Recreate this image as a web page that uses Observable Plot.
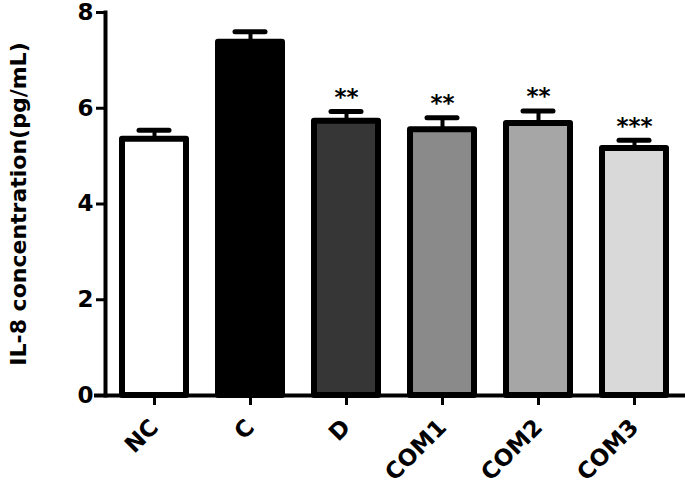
<!DOCTYPE html>
<html>
<head>
<meta charset="utf-8">
<script src="https://cdn.jsdelivr.net/npm/d3@7"></script>
<script src="https://cdn.jsdelivr.net/npm/@observablehq/plot@0.6"></script>
<style>
  html, body { margin: 0; padding: 0; background: #fff; }
  #chart svg { display: block; }
</style>
</head>
<body>
<div id="chart"></div>
<script>
const groups = ["NC", "C", "D", "COM1", "COM2", "COM3"];
const means = [5.35, 7.38, 5.73, 5.55, 5.68, 5.16];
const errors = [0.19, 0.22, 0.20, 0.25, 0.26, 0.17];
const stars = ["", "", "**", "**", "**", "***"];
const fills = ["#ffffff", "#000000", "#363636", "#8a8a8a", "#a6a6a6", "#d9d9d9"];
const yTicks = [0, 2, 4, 6, 8];
const yLabel = "IL-8 concentration(pg/mL)";

const data = groups.map((g, i) => ({
  group: g, mean: means[i], top: means[i] + errors[i], star: stars[i], fill: fills[i]
}));

const font = "'DejaVu Sans', Verdana, sans-serif";

const chart = Plot.plot({
  width: 685,
  height: 492,
  marginLeft: 105,
  marginRight: 1,
  marginTop: 12,
  marginBottom: 97,
  style: { fontFamily: font, fontWeight: "bold", color: "#000", background: "#fff", overflow: "visible" },
  x: { domain: groups, paddingInner: 0.33, paddingOuter: 0.157, align: 0.5 },
  y: { domain: [0, 8] },
  marks: [
    Plot.barY(data, { x: "group", y: "mean", fill: "fill", stroke: "#000", strokeWidth: 6, strokeLinejoin: "round" }),
    Plot.ruleX(data, { x: "group", y1: "mean", y2: "top", stroke: "#000", strokeWidth: 4 }),
    Plot.tickY(data, { x: "group", y: "top", stroke: "#000", strokeWidth: 5, strokeLinecap: "round", insetLeft: 17, insetRight: 17 }),
    Plot.text(data, { x: "group", y: "top", text: "star", dy: -14, fontSize: 23, fontWeight: "bold", fill: "#000", lineAnchor: "middle" }),
    Plot.frame({ anchor: "left", stroke: "#000", strokeWidth: 4 }),
    Plot.ruleY([0], { stroke: "#000", strokeWidth: 4, insetLeft: -11, insetRight: -1 }),
    Plot.axisY({
      ticks: yTicks, tickSize: 9, tickPadding: 3, tickFormat: d => String(d),
      fontSize: 23, fontWeight: "bold", strokeWidth: 3,
      label: null
    }),
    Plot.text([yLabel], {
      frameAnchor: "left", rotate: -90, dx: -87, fontSize: 22, fontWeight: "bold",
      fill: "#000", lineAnchor: "middle", textAnchor: "middle"
    }),
    Plot.axisX({
      tickSize: 10, tickPadding: 18, tickRotate: -45, fontSize: 23, fontWeight: "bold",
      strokeWidth: 3, label: null
    })
  ]
});

document.getElementById("chart").appendChild(chart);
</script>
</body>
</html>
